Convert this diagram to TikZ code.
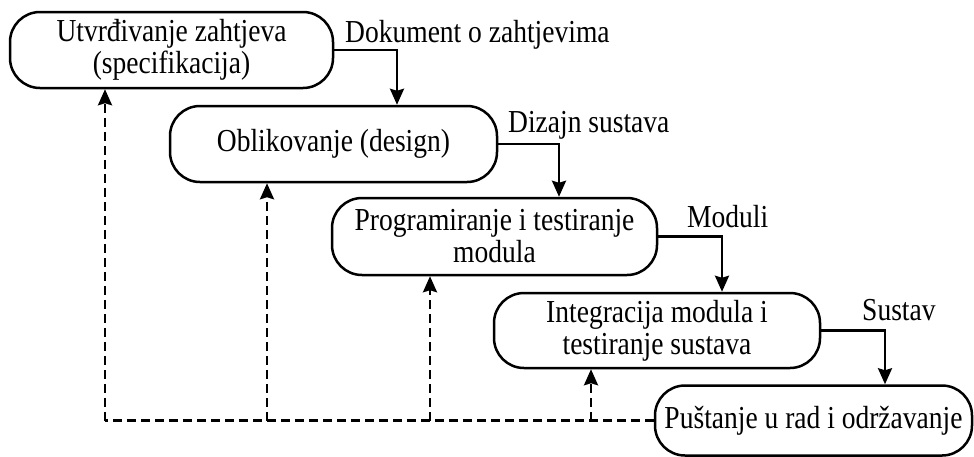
\documentclass[tikz,border=0pt]{standalone}
\usepackage{fontspec}
\setmainfont{Liberation Serif}[FakeStretch=0.86]
\usetikzlibrary{arrows.meta}
\begin{document}
\begin{tikzpicture}[x=1pt,y=-1pt,
  phase/.style={draw,line width=2.5pt,rounded corners=30pt,align=center,
    font=\fontsize{32}{32}\selectfont,inner sep=0pt},
  lbl/.style={anchor=base west,font=\fontsize{32}{32}\selectfont,inner sep=0pt},
  flow/.style={line width=2.5pt,-{Stealth[length=16pt,width=14pt,inset=2pt]}},
  back/.style={line width=2.5pt,dash pattern=on 9pt off 5pt},
  backarrow/.style={back,-{Stealth[length=16pt,width=14pt,inset=2pt]}}]
\useasboundingbox (0,0) rectangle (974,456);
\node[phase,minimum width=323pt,minimum height=76pt] (b1) at (171.5,50) {Utvrđivanje zahtjeva\\(specifikacija)};
\node[phase,minimum width=327pt,minimum height=76pt] (b2) at (333.5,144) {Oblikovanje (design)};
\node[phase,minimum width=325pt,minimum height=77pt] (b3) at (494.5,236.5) {Programiranje i testiranje\\modula};
\node[phase,minimum width=326pt,minimum height=75pt] (b4) at (657,330.5) {Integracija modula i\\testiranje sustava};
\node[phase,minimum width=317pt,minimum height=70pt] (b5) at (813.5,420.5) {Puštanje u rad i održavanje};
\draw[flow] (b1.east) -| ([xshift=63.5pt]b2.north);
\draw[flow] (b2.east) -| ([xshift=64.5pt]b3.north);
\draw[flow] (b3.east) -| ([xshift=65pt]b4.north);
\draw[flow] (b4.east) -| ([xshift=71.5pt]b5.north);
\node[lbl] (l1) at (345,42) {Dokument o zahtjevima};
\node[lbl] (l2) at (508,132) {Dizajn sustava};
\node[lbl] (l3) at (687,227) {Moduli};
\node[lbl] (l4) at (862,320) {Sustav};
\coordinate (d1) at (105,420.5);
\coordinate (d2) at (267,420.5);
\coordinate (d3) at (430,420.5);
\coordinate (d4) at (591,420.5);
\draw[back] (b5.west) -- (d1);
\draw[backarrow] (d1) -- (d1 |- b1.south);
\draw[backarrow] (d2) -- (d2 |- b2.south);
\draw[backarrow] (d3) -- (d3 |- b3.south);
\draw[backarrow] (d4) -- (d4 |- b4.south);
\end{tikzpicture}
\end{document}
